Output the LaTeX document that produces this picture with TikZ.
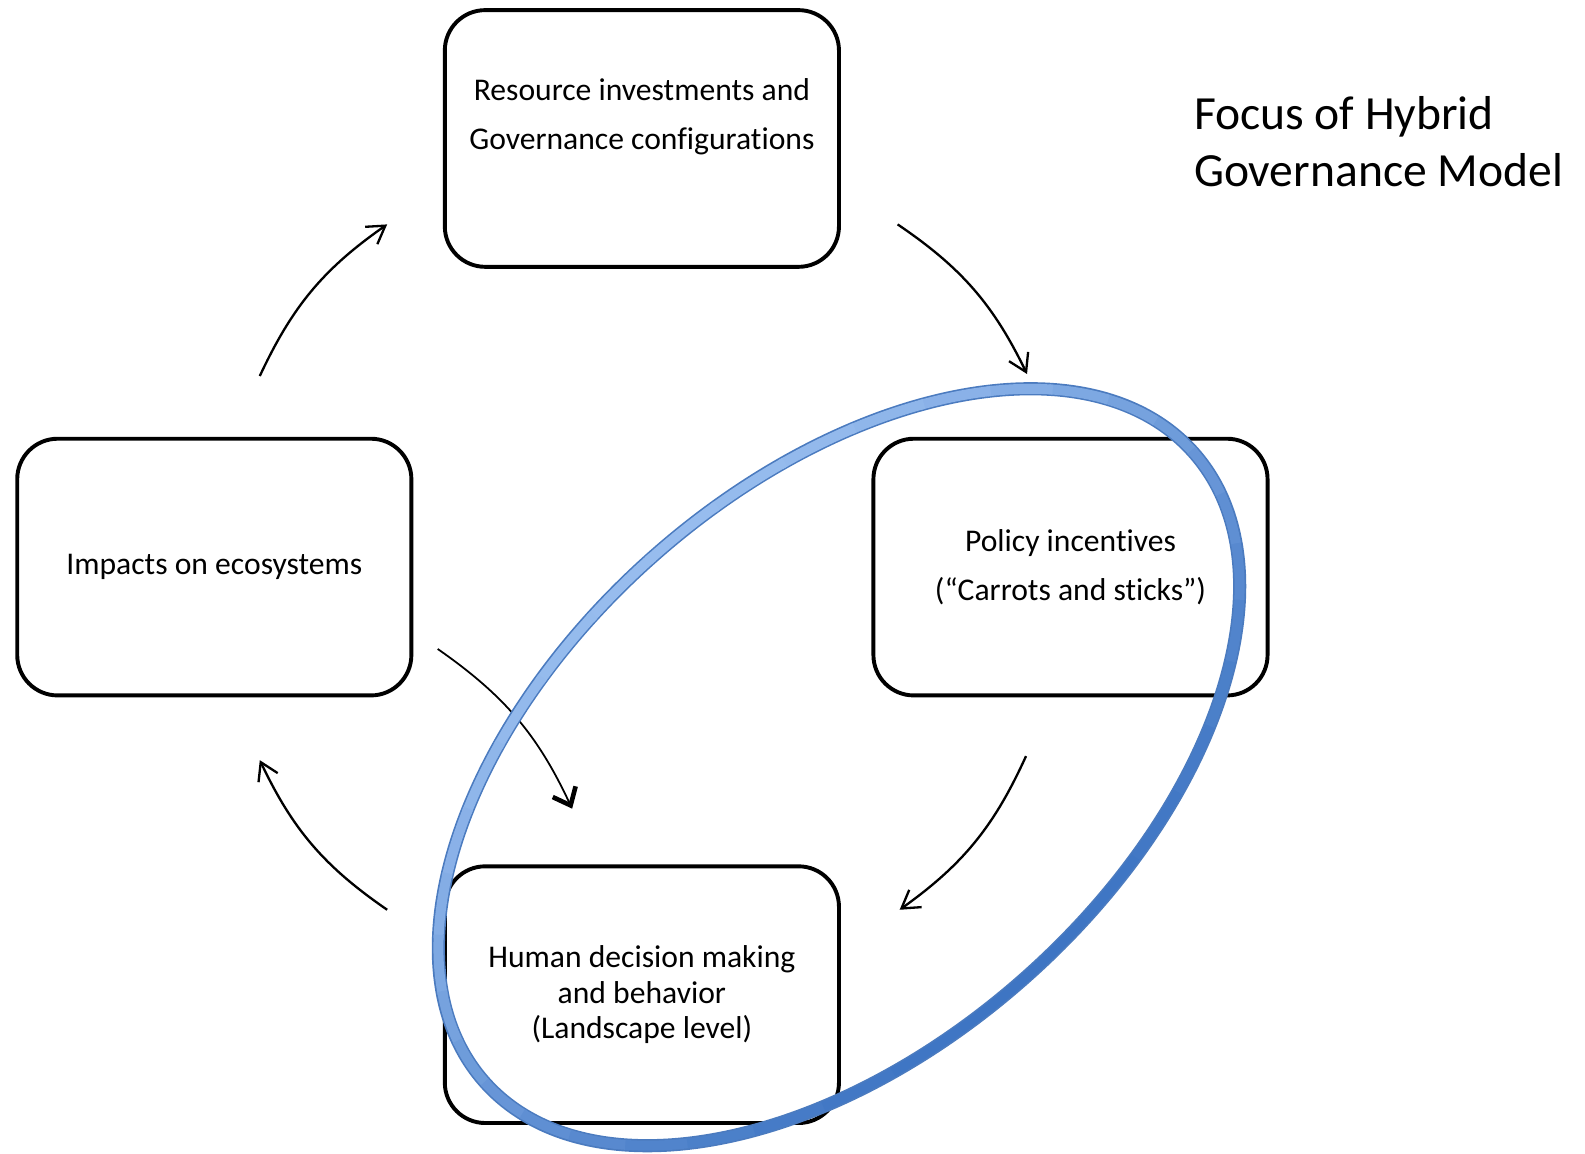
\documentclass[tikz,border=0pt]{standalone}
\usepackage{fontspec}
\setmainfont[Ligatures=TeX,RawFeature={-liga;-clig;-calt;-dlig}]{Carlito}
\usetikzlibrary{arrows.meta}
\definecolor{ringlight}{HTML}{97BCEE}
\definecolor{ringdark}{HTML}{3E75C3}
\definecolor{ringedge}{HTML}{4B7BBF}

\begin{document}
\begin{tikzpicture}[x=0.02cm,y=0.02cm,
	box/.style={draw,line width=2.2pt,rounded corners=0.8cm,fill=white,
		minimum width=7.8cm,minimum height=5.08cm,align=center,
		font=\fontsize{17.8}{27.3}\selectfont},
	loop/.style={line width=1.3pt,-{Straight Barb[length=0.34cm,width=0.42cm]},bend left=15}]
			\useasboundingbox (0,0) rectangle (1568,-1141);
			\node[box] (res) at (635,-137) {Resource investments and\\Governance configurations\\\mbox{}};
			\node[box] (imp) at (212,-561) {Impacts on ecosystems};
			\node[box] (pol) at (1059,-561) {Policy incentives\\(“Carrots and sticks”)};
			\node[box,font=\fontsize{17.8}{19.9}\selectfont] (hum) at (635,-984) {Human decision making\\and behavior\\(Landscape level)};
			\node[anchor=west,align=left,font=\fontsize{26.8}{31.8}\selectfont] (title) at (1175,-140) {Focus of Hybrid\\Governance Model};
			% free ends of the cycle arrows
			\coordinate (impout) at (257,-372);
			\coordinate (resin) at (383,-222);
			\coordinate (resout) at (888,-222);
			\coordinate (polin) at (1016,-370);
			\coordinate (polout) at (1015,-748);
			\coordinate (humin) at (890,-900);
			\coordinate (humout) at (383,-900);
			\coordinate (impin) at (257,-752);
			\coordinate (impmid) at (433,-642);
			\coordinate (hummid) at (566,-800);
			\draw[loop] (impout) to (resin);
			\draw[loop] (resout) to (polin);
			\draw[loop] (polout) to (humin);
			\draw[loop] (humout) to (impin);
			\draw[line width=1pt,-{Straight Barb[length=0.3cm,width=0.5cm,line width=2.6pt]},bend left=15] (impmid) to (hummid);
			% blue ring
			\begin{scope}[shift={(830,-759)},rotate=41.6]
				\draw[ringedge,line width=7.4pt] (0,0) ellipse [x radius=469,y radius=278];
				\foreach \t in {0,10,...,350}{
					\pgfmathsetmacro\mix{50+50*sin(\t+5)}
					\draw[ringlight!\mix!ringdark,line width=5.6pt] (\t:469 and 278) arc[start angle=\t,delta angle=10.6,x radius=469,y radius=278];
				}
			\end{scope}
		\end{tikzpicture}
\end{document}
